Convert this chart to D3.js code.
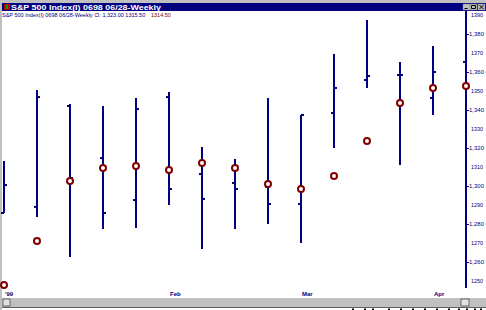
<!DOCTYPE html>
<html>
<head>
<meta charset="utf-8">
<script src="https://cdn.jsdelivr.net/npm/d3@7"></script>
<style>
  body { margin: 0; background: #fff; overflow: hidden; }
  svg text { font-family: "Liberation Sans", Arial, sans-serif; }
</style>
</head>
<body>
<div id="chart"></div>
<script>
var svgWidth = 486;
var svgHeight = 310;
var navy = "#000080";
var darkred = "#800000";

// weekly bars: high, low, open, close, and the marker series
var weeks = d3.range(15);
var highs  = [1313.2, 1350.5, 1343.2, 1342.1, 1346.3, 1349.5, 1320.5, 1314.2, 1346.3, 1337.4, 1369.5, 1387.4, 1365.3, 1373.7, 1382.0];
var lows   = [1285.8, 1283.7, 1262.6, 1277.4, 1277.9, 1290.0, 1266.8, 1277.4, 1280.0, 1270.0, 1320.0, 1351.6, 1311.1, 1337.4, 1350.0];
var opens  = [1285.8, 1289.0, 1342.1, 1314.7, 1292.6, 1346.8, 1306.3, 1301.6, 1299.5, 1290.5, 1338.4, 1355.8, 1358.4, 1346.3, 1365.3];
var closes = [1300.5, 1346.8, 1304.2, 1285.8, 1340.5, 1298.4, 1293.2, 1298.4, 1290.5, 1337.4, 1351.6, 1357.9, 1358.4, 1360.0, 1365.3];
var marks  = [1247.9, 1271.1, 1302.6, 1309.5, 1310.5, 1308.4, 1312.1, 1309.5, 1301.1, 1298.4, 1305.3, 1323.7, 1343.7, 1351.6, 1352.6];

var monthLabels = ["'99", "Feb", "Mar", "Apr"];
var monthWeeks = [0, 5, 9, 13];
var yTicks = d3.range(1390, 1249, -10);

var titleText = "S&P 500 Index(I) 0698 06/28-Weekly";
var infoText = "S&P 500 Index(I) 0698 06/28-Weekly  Cl: 1,323.00 1315.50";
var infoRed = "1314.50";

var x = d3.scaleLinear().domain([0, 14]).range([4, 466]);
var y = d3.scaleLinear().domain([1390, 1250]).range([15, 281]);
var isMajor = d => ((1390 - d) / 10) % 2 == 1;

var svg = d3.select("#chart").append("svg")
    .attr("width", svgWidth)
    .attr("height", svgHeight);

// window frame
svg.append("rect").attr("x", 0).attr("y", 0).attr("width", svgWidth).attr("height", 3).attr("fill", "#c0c0c0");
svg.append("rect").attr("x", 0).attr("y", 0).attr("width", 2).attr("height", svgHeight).attr("fill", "#c0c0c0");
svg.append("rect").attr("x", 2).attr("y", 3).attr("width", svgWidth - 2).attr("height", 8).attr("fill", navy);
svg.append("rect").attr("x", 4).attr("y", 4).attr("width", 6).attr("height", 6).attr("fill", "#c00000");
svg.append("rect").attr("x", 6).attr("y", 5).attr("width", 2).attr("height", 4).attr("fill", "#00a000");
svg.append("text").attr("x", 11).attr("y", 10)
    .attr("fill", "#fff").attr("font-size", 8).attr("font-weight", "bold")
    .attr("textLength", 150).attr("lengthAdjust", "spacingAndGlyphs")
    .text(titleText);

// title bar buttons
var btn = svg.append("g").selectAll("g")
    .data([463, 470, 478]).enter().append("g")
    .attr("transform", d => "translate(" + d + ",4)");
btn.append("rect").attr("width", 7).attr("height", 6).attr("fill", "#c0c0c0").attr("stroke", "#808080").attr("stroke-width", 0.5);
btn.append("path").attr("d", (d, i) => i == 0 ? "M1.5,4.5H4.5" : i == 1 ? "M1.5,1.5H5.5V4.5H1.5Z" : "M1.5,1L5.5,5M5.5,1L1.5,5")
    .attr("stroke", "#000").attr("fill", "none").attr("stroke-width", 1);

// info line
svg.append("text").attr("x", 2).attr("y", 17).attr("font-size", 5.5).attr("fill", navy)
    .text(infoText);
svg.append("text").attr("x", 151).attr("y", 17).attr("font-size", 5.5).attr("fill", darkred)
    .text(infoRed);

// right axis
var yaxis = svg.append("g")
    .attr("transform", "translate(466,0)")
    .call(d3.axisRight(y).tickValues(yTicks)
        .tickSize(3)
        .tickFormat(d => isMajor(d) ? d3.format(",")(d) : String(d)));
yaxis.select(".domain").attr("stroke", navy).attr("stroke-width", 2).attr("d", "M0,11V288");
yaxis.selectAll(".tick line").attr("stroke", navy).attr("stroke-width", 1)
    .attr("x2", d => isMajor(d) ? 3 : 0);
yaxis.selectAll(".tick text").attr("fill", navy).attr("font-size", 6)
    .attr("x", d => isMajor(d) ? 3 : 5)
    .attr("textLength", d => isMajor(d) ? 15 : 12)
    .attr("lengthAdjust", "spacingAndGlyphs")
    .attr("font-family", "Liberation Sans, Arial, sans-serif");

// bars
var bars = svg.append("g").selectAll(".bar")
    .data(weeks).enter().append("g").attr("class", "bar");
bars.append("line")
    .attr("x1", i => x(i)).attr("x2", i => x(i))
    .attr("y1", i => y(highs[i])).attr("y2", i => y(lows[i]))
    .attr("stroke", navy).attr("stroke-width", 2);
bars.append("line")
    .attr("x1", i => x(i) - 3).attr("x2", i => x(i))
    .attr("y1", i => y(opens[i])).attr("y2", i => y(opens[i]))
    .attr("stroke", navy).attr("stroke-width", 2);
bars.filter(i => i < 14).append("line")
    .attr("x1", i => x(i)).attr("x2", i => x(i) + 3)
    .attr("y1", i => y(closes[i])).attr("y2", i => y(closes[i]))
    .attr("stroke", navy).attr("stroke-width", 2);

// markers
svg.append("g").selectAll("circle")
    .data(weeks).enter().append("circle")
    .attr("cx", i => x(i)).attr("cy", i => y(marks[i]))
    .attr("r", 3)
    .attr("fill", "#fff").attr("stroke", darkred).attr("stroke-width", 2);

// month labels
svg.append("g").selectAll("text")
    .data(monthLabels).enter().append("text")
    .attr("x", (d, i) => x(monthWeeks[i]) + 1)
    .attr("y", 296)
    .attr("font-size", 6).attr("font-weight", "bold").attr("fill", navy)
    .text(d => d);

// scrollbar
svg.append("rect").attr("x", 2).attr("y", 298).attr("width", svgWidth - 2).attr("height", 9).attr("fill", "#c0c0c0");
svg.append("rect").attr("x", 2).attr("y", 307).attr("width", svgWidth - 2).attr("height", 1).attr("fill", "#606060");
svg.append("rect").attr("x", 3).attr("y", 299).attr("width", 7).attr("height", 7).attr("fill", "#e0e0e0").attr("stroke", "#000").attr("stroke-width", 0.5);
svg.append("rect").attr("x", 461).attr("y", 299).attr("width", 8).attr("height", 7).attr("fill", "#e0e0e0").attr("stroke", "#000").attr("stroke-width", 0.5);
// status bar specks below the scrollbar
svg.append("g").selectAll("rect")
    .data([352, 364, 372, 388, 400, 412, 424, 436, 448, 458, 466, 474, 480])
    .enter().append("rect")
    .attr("x", d => d).attr("y", 308.5).attr("width", 2).attr("height", 1.5).attr("fill", "#000");
</script>
</body>
</html>
